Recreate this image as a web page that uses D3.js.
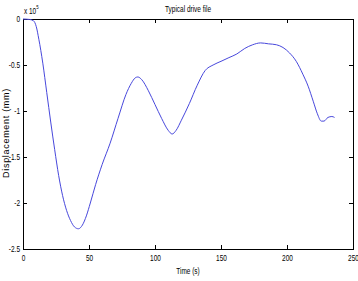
<!DOCTYPE html>
<html>
<head>
<meta charset="utf-8">
<script src="https://cdn.jsdelivr.net/npm/d3@7"></script>
<style>
  body { margin: 0; background: #fff; }
  svg { display: block; }
  .lbl { font-family: "Liberation Sans", Arial, sans-serif; font-size: 9px; fill: #000; }
</style>
</head>
<body>
<div id="chart"></div>
<script>
"use strict";

// time in seconds
const timeS = [0, 5, 8, 10, 12, 15, 18, 21, 24, 27, 30, 33, 36, 39, 42, 45, 48, 51, 55, 60,
  66, 72, 78, 82, 85, 87, 90, 95, 100, 105, 110, 113, 116, 120, 126, 132, 138, 144, 150,
  156, 162, 168, 174, 180, 186, 192, 197, 202, 207, 212, 216, 220, 223, 226, 228, 231, 234, 236];
// displacement, units of 1e5 mm
const displacement = [0, -0.005, -0.02, -0.08, -0.22, -0.48, -0.80, -1.12, -1.42, -1.70,
  -1.92, -2.08, -2.19, -2.26, -2.28, -2.24, -2.14, -2.00, -1.80, -1.58,
  -1.35, -1.08, -0.82, -0.70, -0.64, -0.63, -0.66, -0.78, -0.93, -1.08, -1.21, -1.25, -1.21,
  -1.10, -0.92, -0.72, -0.56, -0.50, -0.46, -0.42, -0.38, -0.32, -0.28, -0.26, -0.27, -0.28,
  -0.31, -0.37, -0.46, -0.60, -0.73, -0.90, -1.03, -1.11, -1.11, -1.07, -1.06, -1.07];

const xTicks = [0, 50, 100, 150, 200, 250];
const yTicks = [0, -0.5, -1, -1.5, -2, -2.5];
const yTickLabels = ["0", "-0.5", "-1", "-1.5", "-2", "-2.5"];

const W = 358, H = 281;
const mLeft = 23, mRight = 353, mTop = 19, mBottom = 249;
const squeeze = 0.72; // the original uses a narrow font

const svg = d3.select("#chart").append("svg")
  .attr("width", W).attr("height", H);

const x = d3.scaleLinear().domain([0, 250]).range([mLeft, mRight]);
const y = d3.scaleLinear().domain([-2.5, 0]).range([mBottom, mTop]);

const tickLen = 4;

// squeeze text horizontally, keeping its x anchor in place
function condense(sel) {
  sel.each(function () {
    const t = d3.select(this);
    const x0 = +t.attr("x") || 0;
    t.attr("x", x0 / squeeze).attr("transform", `scale(${squeeze},1)`);
  });
}

// frame
svg.append("rect")
  .attr("x", mLeft).attr("y", mTop)
  .attr("width", mRight - mLeft).attr("height", mBottom - mTop)
  .attr("fill", "none").attr("stroke", "#000").attr("stroke-width", 1)
  .attr("shape-rendering", "crispEdges");

// axes with inward ticks
const xAxisB = d3.axisBottom(x).tickValues(xTicks).tickSize(-tickLen).tickPadding(6);
const xAxisT = d3.axisTop(x).tickValues(xTicks).tickSize(-tickLen).tickFormat("");
const yAxisL = d3.axisLeft(y).tickValues(yTicks).tickSize(-tickLen).tickPadding(3)
  .tickFormat((d, i) => yTickLabels[i]);
const yAxisR = d3.axisRight(y).tickValues(yTicks).tickSize(-tickLen).tickFormat("");

function styleAxis(g) {
  g.select(".domain").remove();
  g.selectAll("line").attr("stroke", "#000").attr("shape-rendering", "crispEdges");
  g.selectAll("text").attr("class", "lbl").attr("font-size", null).attr("font-family", null)
    .call(condense);
}

svg.append("g").attr("transform", `translate(0,${mBottom})`).call(xAxisB).call(styleAxis);
svg.append("g").attr("transform", `translate(0,${mTop})`).call(xAxisT).call(styleAxis);
svg.append("g").attr("transform", `translate(${mLeft},0)`).call(yAxisL).call(styleAxis);
svg.append("g").attr("transform", `translate(${mRight},0)`).call(yAxisR).call(styleAxis);

// line
const pts = timeS.map((t, i) => [t, displacement[i]]);
svg.append("path")
  .datum(pts)
  .attr("fill", "none")
  .attr("stroke", "#4848dc")
  .attr("stroke-width", 1)
  .attr("d", d3.line().x((d) => x(d[0])).y((d) => y(d[1])).curve(d3.curveMonotoneX));

// title
svg.append("text")
  .attr("class", "lbl")
  .attr("font-size", "8.5px")
  .attr("x", (mLeft + mRight) / 2).attr("y", 12)
  .attr("text-anchor", "middle")
  .text("Typical drive file")
  .call(condense);

// exponent
const ex = svg.append("text").attr("class", "lbl").attr("font-size", "8px")
  .attr("x", mLeft + 1).attr("y", 14);
ex.append("tspan").text("x 10");
ex.append("tspan").attr("dy", -5).attr("font-size", "6px").text("5");
ex.call(condense);

// axis labels
svg.append("text")
  .attr("class", "lbl")
  .attr("font-size", "8.5px")
  .attr("x", (mLeft + mRight) / 2).attr("y", 274)
  .attr("text-anchor", "middle")
  .text("Time (s)")
  .call(condense);

svg.append("text")
  .attr("transform", `translate(9,${(mTop + mBottom) / 2 - 1}) rotate(-90)`)
  .attr("text-anchor", "middle")
  .attr("font-family", "Arial, 'Liberation Sans', sans-serif")
  .attr("font-size", "9px")
  .attr("letter-spacing", "0.7px")
  .text("Displacement (mm)");
</script>
</body>
</html>
